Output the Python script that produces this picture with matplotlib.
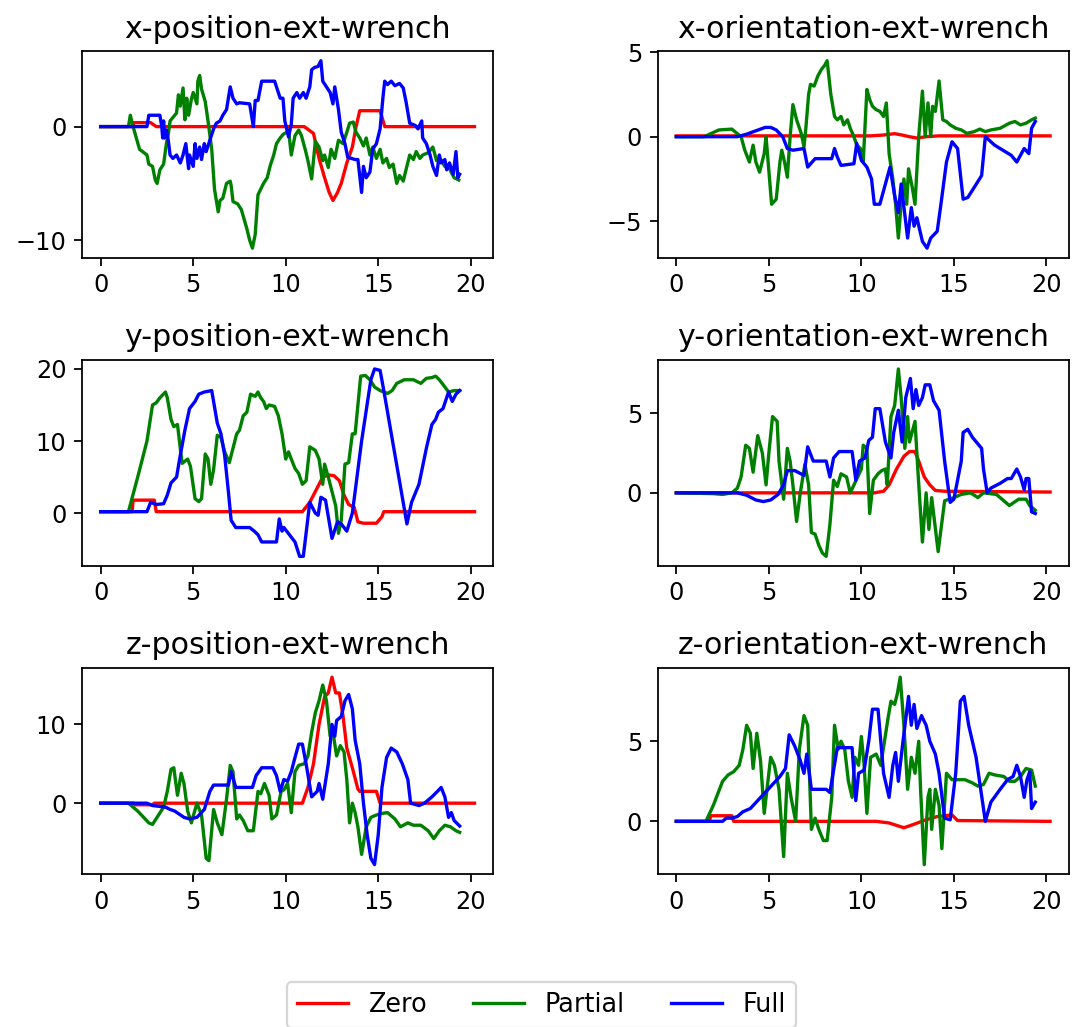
import numpy as np
import matplotlib.pyplot as plt

# (time, value) samples, one list per panel and mode
xpos_zero = [(0, 0), (1.7, 0), (1.8, 0.35), (2.7, 0.35), (3.0, 0), (11.0, 0), (11.5, -0.6), (11.8, -2.8),
             (12.1, -4.5), (12.35, -5.8), (12.55, -6.5), (12.8, -5.8), (13.0, -5.0), (13.3, -3.2), (13.6, -1.8),
             (13.8, 0), (14.0, 1.4), (15.1, 1.4), (15.35, 0), (20.2, 0)]
xpos_partial = [(0, 0), (1.5, 0), (1.6, 1.0), (1.75, 0), (2.1, -2.0), (2.5, -2.5), (2.6, -3.3), (2.8, -3.5),
                (2.95, -4.7), (3.05, -5.0), (3.2, -3.8), (3.4, -3.3), (3.55, -1.5), (3.65, -0.7), (3.75, 0.5),
                (3.9, 0.8), (4.1, 1.2), (4.2, 2.8), (4.3, 1.8), (4.45, 3.4), (4.55, 0.6), (4.65, 2.5), (4.75, 1.0),
                (4.9, 2.4), (5.0, 3.0), (5.2, 2.0), (5.25, 4.0), (5.35, 4.5), (5.45, 3.3), (5.65, 2.2), (5.8, 0.5),
                (6.0, -2.0), (6.15, -5.5), (6.35, -7.5), (6.45, -6.5), (6.6, -6.3), (6.8, -5.0), (7.0, -4.8),
                (7.05, -5.2), (7.15, -6.6), (7.4, -6.8), (7.6, -7.3), (7.9, -9.0), (8.05, -10.0), (8.2, -10.7),
                (8.35, -9.5), (8.5, -6.0), (8.8, -5.0), (9.0, -4.5), (9.15, -3.5), (9.35, -2.5), (9.5, -1.5),
                (9.7, -1.0), (9.85, -0.7), (10.05, -0.5), (10.15, -0.3), (10.3, -2.5), (10.5, -0.8), (10.7, -0.3),
                (10.85, -0.8), (11.05, -2.0), (11.2, -3.0), (11.4, -4.6), (11.6, -1.3), (11.8, -1.8), (12.0, -3.0),
                (12.1, -2.5), (12.3, -3.6), (12.45, -2.0), (12.65, -2.8), (12.85, -1.2), (13.1, -1.5), (13.3, -0.5),
                (13.45, 0.3), (13.65, 0.4), (13.8, -0.5), (14.0, -1.0), (14.2, -1.7), (14.35, -1.0), (14.55, -2.5),
                (14.7, -1.8), (14.9, -2.8), (15.1, -2.0), (15.25, -3.2), (15.45, -2.8), (15.6, -3.6), (15.8, -3.3),
                (16.0, -5.0), (16.15, -4.3), (16.35, -4.8), (16.5, -3.8), (16.7, -2.5), (16.9, -2.9), (17.05, -2.2),
                (17.25, -2.8), (17.4, -2.5), (17.7, -2.3), (17.95, -1.8), (18.15, -3.0), (18.3, -2.7), (18.6, -3.5),
                (18.85, -3.7), (19.1, -4.5), (19.35, -4.7)]
xpos_full = [(0, 0), (2.5, 0), (2.6, 1.0), (3.2, 1.0), (3.3, 0), (3.35, -1.0), (3.4, 0.5), (3.45, -1.0),
             (3.55, -0.3), (3.65, -1.2), (3.75, -2.5), (3.9, -2.8), (4.1, -2.5), (4.3, -3.2), (4.45, -2.5),
             (4.6, -1.5), (4.75, -3.7), (4.8, -2.5), (5.0, -3.5), (5.1, -1.5), (5.2, -2.8), (5.35, -1.8),
             (5.45, -2.9), (5.6, -1.5), (5.7, -2.2), (5.9, -1.2), (6.1, -0.2), (6.25, 0.3), (6.45, 0.5), (6.6, 1.0),
             (6.8, 1.5), (7.0, 3.5), (7.15, 2.5), (7.35, 2.0), (7.5, 2.1), (8.05, 2.0), (8.25, 0), (8.35, 2.3),
             (8.5, 2.3), (8.7, 4.0), (9.4, 4.0), (9.7, 2.5), (9.85, 2.5), (9.95, 0.5), (10.15, -0.9), (10.3, 0.2),
             (10.4, 2.5), (10.6, 3.0), (10.75, 2.5), (10.95, 3.0), (11.1, 2.5), (11.3, 3.5), (11.4, 5.0),
             (11.55, 5.2), (11.75, 5.3), (11.9, 5.8), (12.0, 4.0), (12.2, 3.5), (12.4, 3.0), (12.55, 2.0),
             (12.65, 3.5), (12.85, 1.5), (13.0, -0.5), (13.2, -1.5), (13.35, -2.7), (13.75, -2.9), (13.9, -2.9),
             (14.1, -5.8), (14.2, -3.5), (14.35, -4.5), (14.55, -4.0), (14.7, -2.0), (14.9, -1.5), (15.1, -0.2),
             (15.25, 2.5), (15.35, 4.0), (15.5, 3.7), (15.7, 4.0), (15.9, 3.6), (16.15, 3.8), (16.35, 3.4),
             (16.5, 2.2), (16.7, 0.3), (17.0, 0.1), (17.15, -0.2), (17.35, 0.5), (17.4, -1.0), (17.6, -1.5),
             (17.8, -2.5), (17.95, -3.5), (18.15, -4.3), (18.3, -2.5), (18.4, -3.2), (18.6, -2.9), (18.7, -3.8),
             (18.85, -3.2), (19.05, -4.2), (19.2, -2.2), (19.3, -4.5), (19.4, -4.2)]

xori_zero = [(0, 0.05), (10.5, 0.05), (11.2, 0.1), (11.8, 0.18), (12.2, 0.1), (12.6, 0.0), (13.0, -0.08),
             (13.5, 0.0), (14.2, 0.05), (20.2, 0.05)]
xori_partial = [(0, 0), (1.5, 0), (2.3, 0.4), (3.0, 0.45), (3.5, 0.0), (3.7, -0.8), (3.95, -1.5), (4.15, -0.5),
                (4.3, -1.5), (4.5, -2.1), (4.75, -1.0), (4.85, 0.0), (5.0, -2.0), (5.15, -4.0), (5.4, -3.7),
                (5.6, -1.5), (5.7, -0.8), (5.85, -1.5), (6.0, -2.4), (6.15, 0.0), (6.3, 1.9), (6.5, 1.0),
                (6.75, 0.2), (6.9, -0.6), (7.0, 0.5), (7.15, 2.5), (7.25, 3.1), (7.45, 3.0), (7.65, 3.6),
                (7.85, 4.0), (8.0, 4.2), (8.15, 4.5), (8.35, 2.5), (8.55, 1.2), (8.7, 1.0), (8.9, 1.2), (9.05, 0.7),
                (9.25, 1.0), (9.4, 0.5), (9.6, 0.0), (9.75, -0.5), (9.95, -0.7), (10.1, -1.5), (10.3, 2.8),
                (10.45, 2.2), (10.6, 1.8), (10.8, 1.6), (11.0, 1.5), (11.2, 1.2), (11.35, 2.0), (11.5, -1.0),
                (11.7, -2.5), (11.85, -4.0), (12.0, -6.0), (12.15, -4.0), (12.3, -2.5), (12.45, -4.0),
                (12.55, -1.9), (12.75, -3.0), (12.9, -4.0), (13.1, 0.0), (13.3, 2.7), (13.45, 0.0), (13.6, 2.0),
                (13.75, 0.0), (13.85, 1.8), (14.0, 1.5), (14.2, 3.3), (14.4, 1.0), (14.6, 0.9), (14.8, 0.7),
                (15.1, 0.5), (15.4, 0.4), (15.7, 0.2), (16.1, 0.3), (16.4, 0.45), (16.7, 0.3), (17.0, 0.4),
                (17.5, 0.5), (18.0, 0.8), (18.3, 0.9), (18.6, 0.7), (18.9, 0.8), (19.2, 1.0), (19.4, 1.1)]
xori_full = [(0, 0), (3.3, 0), (3.8, 0.15), (4.3, 0.35), (4.8, 0.55), (5.1, 0.55), (5.4, 0.4), (5.75, 0.0),
             (6.0, -0.7), (6.3, -0.8), (6.9, -0.7), (7.1, -1.8), (7.5, -1.3), (8.4, -1.3), (8.55, -0.7),
             (8.7, -1.2), (8.9, -1.7), (9.6, -1.6), (9.75, -0.4), (10.0, -1.4), (10.3, -1.8), (10.55, -2.5),
             (10.7, -4.0), (11.0, -4.0), (11.3, -2.8), (11.55, -1.8), (11.8, -3.5), (12.0, -4.5), (12.15, -2.8),
             (12.5, -6.0), (12.7, -4.2), (12.85, -5.3), (13.0, -4.8), (13.3, -6.2), (13.55, -6.6), (13.75, -6.0),
             (14.1, -5.6), (14.3, -4.0), (14.6, -1.5), (14.9, -0.3), (15.2, -0.7), (15.5, -3.7), (15.75, -3.6),
             (16.1, -3.0), (16.5, -2.3), (16.7, 0.0), (17.2, -0.5), (17.8, -0.9), (18.1, -1.1), (18.4, -1.5),
             (18.8, -0.7), (19.05, -1.0), (19.2, 0.5), (19.4, 0.9)]

ypos_zero = [(0, 0.2), (1.7, 0.2), (1.75, 1.8), (2.9, 1.8), (3.0, 0.2), (10.9, 0.2), (11.3, 1.5), (11.7, 3.5),
             (12.0, 5.0), (12.3, 5.3), (12.6, 5.2), (12.9, 4.5), (13.15, 2.5), (13.4, 1.2), (13.7, 0.8),
             (13.9, -1.2), (14.2, -1.4), (14.9, -1.4), (15.2, -0.5), (15.3, 0.2), (20.2, 0.2)]
ypos_partial = [(0, 0.2), (1.5, 0.2), (2.0, 5.0), (2.5, 10.0), (2.8, 15.0), (3.0, 15.3), (3.2, 16.0), (3.5, 16.8),
                (3.6, 16.0), (3.8, 13.0), (3.95, 12.0), (4.15, 12.3), (4.3, 9.0), (4.4, 6.9), (4.7, 7.5),
                (4.85, 6.5), (5.1, 2.0), (5.3, 1.6), (5.45, 2.0), (5.65, 8.2), (5.8, 7.5), (5.95, 4.0), (6.1, 6.0),
                (6.3, 10.8), (6.5, 10.5), (6.7, 8.5), (6.95, 7.0), (7.2, 9.5), (7.35, 11.0), (7.5, 11.5),
                (7.7, 13.5), (7.9, 14.0), (8.1, 16.5), (8.35, 16.2), (8.5, 16.8), (8.65, 16.0), (8.8, 15.5),
                (8.95, 14.5), (9.1, 15.0), (9.4, 14.8), (9.6, 13.5), (9.8, 11.0), (10.0, 7.5), (10.15, 8.5),
                (10.3, 7.5), (10.5, 6.2), (10.7, 5.5), (10.9, 4.0), (11.1, 4.5), (11.3, 9.2), (11.6, 8.7),
                (11.8, 7.5), (12.0, 4.0), (12.1, 6.8), (12.3, 5.0), (12.5, 3.0), (12.7, 1.0), (12.85, -2.8),
                (13.0, -1.0), (13.2, 6.8), (13.4, 7.0), (13.6, 11.0), (13.75, 11.0), (13.9, 15.0), (14.05, 19.0),
                (14.3, 19.1), (14.55, 18.5), (14.8, 17.5), (15.1, 17.0), (15.5, 16.6), (15.75, 17.0), (16.0, 18.0),
                (16.4, 18.5), (16.9, 18.5), (17.3, 18.0), (17.6, 18.7), (17.9, 18.8), (18.1, 19.0), (18.3, 18.5),
                (18.6, 17.5), (18.8, 16.8), (19.1, 17.0), (19.4, 17.0)]
ypos_full = [(0, 0.2), (2.5, 0.2), (2.7, 1.5), (3.0, 1.2), (3.4, 1.3), (3.6, 2.5), (3.8, 4.2), (4.1, 5.0),
             (4.3, 8.0), (4.55, 11.5), (4.8, 14.5), (5.1, 15.5), (5.3, 16.5), (5.6, 16.8), (6.0, 17.0),
             (6.3, 12.5), (6.5, 11.0), (6.7, 8.0), (6.9, 3.0), (7.05, -1.0), (7.3, -2.0), (8.05, -2.0),
             (8.3, -2.5), (8.5, -3.0), (8.7, -4.0), (9.5, -4.0), (9.65, -0.8), (9.8, -2.5), (9.9, -2.0),
             (10.2, -3.0), (10.5, -4.0), (10.75, -6.0), (10.95, -6.0), (11.3, 1.5), (11.6, 0.0), (11.75, -0.3),
             (11.9, 2.2), (12.15, 1.8), (12.5, -3.5), (12.8, -1.2), (13.0, -1.5), (13.3, -2.5), (13.6, 0.0),
             (14.1, 10.0), (14.6, 18.5), (14.8, 20.0), (15.1, 19.8), (15.3, 17.0), (16.55, -1.5), (16.8, 1.5),
             (17.2, 4.0), (17.6, 9.0), (17.9, 12.3), (18.1, 13.0), (18.25, 14.0), (18.5, 14.5), (18.8, 16.8),
             (19.0, 15.5), (19.2, 16.5), (19.4, 17.0)]

yori_zero = [(0, 0), (10.7, 0), (11.2, 0.1), (11.5, 0.5), (11.9, 1.5), (12.3, 2.3), (12.6, 2.6), (12.9, 2.6),
             (13.1, 2.0), (13.4, 1.0), (13.7, 0.5), (14.0, 0.15), (14.5, 0.1), (20.2, 0.05)]
yori_partial = [(0, 0), (2.0, -0.05), (2.5, -0.1), (3.0, 0.0), (3.3, 0.3), (3.5, 1.0), (3.75, 3.0), (3.95, 2.8),
                (4.15, 1.3), (4.4, 3.6), (4.65, 2.5), (4.85, 0.5), (5.0, 2.5), (5.2, 4.8), (5.45, 4.5), (5.55, 2.0),
                (5.8, -0.4), (6.0, 2.8), (6.15, 2.0), (6.3, 0.5), (6.5, -1.8), (6.7, 0.0), (6.95, 1.8),
                (7.15, 0.5), (7.3, -2.5), (7.5, -2.6), (7.7, -3.3), (7.9, -3.8), (8.1, -4.0), (8.3, -2.0),
                (8.5, 0.8), (8.7, 0.4), (8.9, 1.2), (9.2, 1.0), (9.4, 0.0), (9.6, 0.5), (9.8, 1.0), (10.0, 1.5),
                (10.1, 3.0), (10.3, 2.8), (10.45, -1.3), (10.65, 0.8), (10.9, 1.2), (11.1, 1.4), (11.3, 1.5),
                (11.4, 0.5), (11.6, 4.8), (11.8, 5.5), (12.0, 7.8), (12.15, 6.0), (12.35, 2.8), (12.5, 4.8),
                (12.6, 3.2), (12.9, 4.5), (13.05, 1.5), (13.3, -3.1), (13.5, 0.0), (13.65, -2.3), (13.8, -0.3),
                (14.15, -3.7), (14.5, -0.5), (15.0, -0.3), (15.4, -0.1), (15.9, 0.0), (16.3, -0.3), (16.6, 0.0),
                (17.3, -0.1), (17.7, -0.5), (18.0, -0.8), (18.5, -0.4), (18.9, -0.4), (19.1, -0.8), (19.4, -1.1)]
yori_full = [(0, 0), (3.3, 0), (3.8, -0.15), (4.3, -0.45), (4.7, -0.55), (5.1, -0.45), (5.5, -0.1), (5.8, 0.5),
             (6.0, 1.4), (6.4, 1.4), (6.9, 1.1), (7.1, 2.9), (7.4, 2.0), (8.1, 2.0), (8.3, 1.0), (8.5, 2.2),
             (8.8, 2.6), (9.5, 2.6), (9.7, 0.8), (9.9, 2.0), (10.2, 2.2), (10.4, 3.3), (10.6, 3.5), (10.75, 5.3),
             (11.0, 5.3), (11.3, 3.2), (11.6, 2.2), (11.75, 3.8), (12.0, 5.2), (12.2, 3.2), (12.4, 6.0),
             (12.65, 7.2), (12.8, 5.3), (12.95, 6.5), (13.1, 5.5), (13.3, 6.0), (13.45, 6.8), (13.7, 6.8),
             (13.9, 5.8), (14.2, 5.2), (14.5, 2.0), (14.8, -0.6), (15.0, -0.4), (15.4, 2.0), (15.5, 3.8),
             (15.75, 4.0), (16.0, 3.5), (16.5, 2.8), (16.6, 1.5), (16.8, 0.0), (17.0, 0.3), (17.5, 0.6),
             (17.9, 0.9), (18.1, 0.9), (18.4, 1.5), (18.6, 1.0), (18.8, 0.2), (18.9, 0.9), (19.05, 0.9),
             (19.2, -1.2), (19.4, -1.3)]

zpos_zero = [(0, 0), (1.8, 0), (1.85, -0.2), (2.8, -0.2), (2.9, 0), (10.9, 0), (11.2, 2.0), (11.5, 5.0),
             (11.8, 10.0), (12.1, 13.5), (12.3, 14.0), (12.5, 16.0), (12.7, 14.0), (12.9, 14.0), (13.1, 11.0),
             (13.3, 7.0), (13.6, 4.5), (13.9, 1.8), (14.0, 1.5), (14.9, 1.5), (15.1, 0.0), (20.2, 0.0)]
zpos_partial = [(0, 0), (1.5, 0), (2.0, -1.0), (2.6, -2.5), (2.8, -2.7), (3.4, -0.5), (3.6, 1.5), (3.8, 4.3),
                (3.95, 4.5), (4.15, 1.0), (4.35, 3.8), (4.5, 2.5), (4.7, -1.0), (4.9, -2.5), (5.2, 0.0),
                (5.45, -1.5), (5.7, -7.0), (5.85, -7.3), (6.1, -0.8), (6.3, -2.5), (6.55, -4.0), (6.8, 0.5),
                (7.0, 4.8), (7.15, 4.0), (7.35, -2.0), (7.5, -1.5), (7.7, -2.2), (7.95, -3.5), (8.25, -3.5),
                (8.5, 1.5), (8.65, 1.2), (8.85, 2.5), (9.1, 1.0), (9.25, -2.0), (9.5, -1.5), (9.75, 1.5),
                (9.9, 1.7), (10.1, 2.5), (10.3, -1.2), (10.5, 4.0), (10.7, 4.8), (11.0, 5.0), (11.2, 6.0),
                (11.4, 9.0), (11.6, 11.5), (11.8, 13.0), (12.0, 15.0), (12.2, 13.0), (12.4, 8.5), (12.55, 9.0),
                (12.75, 6.0), (12.95, 7.3), (13.15, 6.5), (13.3, 3.0), (13.45, -2.5), (13.6, 0.0), (13.75, -1.2),
                (13.9, -3.0), (14.1, -6.5), (14.35, -3.0), (14.6, -1.8), (14.9, -1.5), (15.2, -1.3), (15.5, -1.2),
                (15.9, -2.0), (16.2, -3.0), (16.6, -2.5), (16.9, -2.8), (17.3, -2.8), (17.7, -3.5), (18.0, -4.5),
                (18.3, -3.5), (18.6, -2.8), (18.9, -3.0), (19.2, -3.5), (19.4, -3.7)]
zpos_full = [(0, 0), (2.5, 0), (2.8, -0.3), (3.5, -0.5), (3.75, -0.8), (4.0, -1.0), (4.5, -1.8), (4.8, -2.0),
             (5.2, -1.8), (5.6, -0.8), (5.9, 1.5), (6.1, 2.3), (6.9, 2.3), (7.05, 4.0), (7.3, 2.0), (8.2, 2.0),
             (8.4, 3.5), (8.7, 4.5), (9.3, 4.5), (9.5, 3.5), (9.7, 1.5), (9.9, 3.0), (10.1, 2.8), (10.3, 4.0),
             (10.5, 5.8), (10.7, 7.5), (10.9, 7.5), (11.1, 5.0), (11.4, 0.8), (11.7, 1.5), (11.8, 2.5),
             (12.0, 0.5), (12.3, 5.0), (12.5, 10.0), (12.65, 8.5), (12.75, 10.5), (13.0, 11.0), (13.2, 13.0),
             (13.4, 13.8), (13.6, 12.0), (13.75, 8.0), (14.0, 5.0), (14.2, 0.0), (14.4, -4.0), (14.6, -7.0),
             (14.8, -7.8), (15.0, -4.0), (15.2, 2.0), (15.45, 5.8), (15.7, 7.0), (16.0, 6.5), (16.3, 5.0),
             (16.6, 3.0), (16.75, 0.0), (17.2, -0.3), (17.5, 0.0), (17.9, 0.8), (18.2, 1.5), (18.4, 2.0),
             (18.6, 0.8), (18.8, -1.8), (18.95, -1.2), (19.1, -2.2), (19.4, -2.9)]

zori_zero = [(0, 0), (1.8, 0), (1.85, 0.35), (3.0, 0.35), (3.1, 0), (10.8, 0), (11.5, -0.1), (12.3, -0.4),
             (12.8, -0.2), (13.5, 0.1), (14.1, 0.3), (14.9, 0.4), (15.2, 0.05), (20.2, 0.0)]
zori_partial = [(0, 0), (1.6, 0), (2.0, 1.0), (2.5, 2.5), (2.8, 2.9), (3.1, 3.1), (3.4, 3.5), (3.6, 4.5),
                (3.8, 6.0), (4.0, 5.5), (4.15, 3.3), (4.35, 5.5), (4.55, 3.8), (4.75, 0.5), (5.1, 4.0), (5.3, 3.5),
                (5.55, 2.0), (5.8, -2.2), (6.0, 3.0), (6.2, 1.5), (6.45, 0.0), (6.65, 4.5), (6.9, 6.6), (7.1, 6.0),
                (7.3, -0.5), (7.5, 0.2), (7.7, -0.5), (7.95, -1.2), (8.15, -1.2), (8.4, 1.5), (8.55, 6.0),
                (8.75, 4.5), (8.9, 5.0), (9.1, 4.5), (9.3, 2.5), (9.5, 1.5), (9.65, 4.0), (9.85, 3.5), (10.0, 5.3),
                (10.15, 3.5), (10.3, 0.5), (10.5, 4.0), (10.8, 4.2), (11.05, 3.5), (11.25, 5.0), (11.45, 6.5),
                (11.6, 7.5), (11.8, 7.3), (11.95, 8.0), (12.1, 9.0), (12.3, 6.0), (12.5, 2.0), (12.7, 4.0),
                (12.9, 3.0), (13.1, 5.0), (13.2, 2.0), (13.4, -2.7), (13.6, 1.5), (13.7, 2.0), (13.8, -0.5),
                (14.0, 2.0), (14.2, 1.0), (14.35, -1.7), (14.6, 3.0), (14.9, 2.6), (15.2, 2.6), (15.6, 2.6),
                (16.0, 2.4), (16.3, 2.2), (16.6, 2.3), (16.9, 3.0), (17.2, 2.9), (17.7, 2.8), (18.0, 2.5),
                (18.3, 2.5), (18.6, 2.8), (18.9, 3.3), (19.2, 3.2), (19.4, 2.2)]
zori_full = [(0, 0), (2.5, 0), (2.7, 0.2), (3.0, 0.2), (3.3, 0.3), (3.6, 0.6), (4.0, 0.8), (4.4, 1.3), (4.8, 1.8),
             (5.2, 2.3), (5.6, 2.8), (5.9, 3.3), (6.1, 5.4), (6.4, 4.7), (6.7, 3.8), (6.9, 3.0), (7.05, 4.2),
             (7.3, 2.0), (8.1, 2.0), (8.3, 1.8), (8.5, 3.2), (8.7, 4.6), (9.5, 4.6), (9.7, 1.3), (9.85, 3.0),
             (10.15, 3.2), (10.4, 5.0), (10.6, 7.0), (10.9, 7.0), (11.2, 3.0), (11.5, 1.5), (11.7, 3.5),
             (11.85, 4.3), (12.0, 2.5), (12.25, 5.0), (12.55, 7.8), (12.7, 6.0), (12.85, 7.3), (13.0, 5.8),
             (13.25, 6.6), (13.5, 6.0), (13.7, 5.0), (14.0, 4.2), (14.2, 3.0), (14.5, 0.2), (14.8, 0.1),
             (15.1, 3.0), (15.35, 7.5), (15.55, 7.8), (15.8, 6.0), (16.2, 4.0), (16.45, 2.0), (16.7, 0.0),
             (17.0, 1.2), (17.5, 2.0), (17.9, 2.6), (18.2, 2.8), (18.4, 3.5), (18.6, 2.8), (18.8, 1.5),
             (18.95, 2.6), (19.1, 3.1), (19.2, 0.8), (19.4, 1.2)]

titles = ['x-position-ext-wrench', 'x-orientation-ext-wrench',
          'y-position-ext-wrench', 'y-orientation-ext-wrench',
          'z-position-ext-wrench', 'z-orientation-ext-wrench']
panels = [(xpos_zero, xpos_partial, xpos_full), (xori_zero, xori_partial, xori_full),
          (ypos_zero, ypos_partial, ypos_full), (yori_zero, yori_partial, yori_full),
          (zpos_zero, zpos_partial, zpos_full), (zori_zero, zori_partial, zori_full)]
yticks = [[-10, 0], [-5, 0, 5], [0, 10, 20], [0, 5], [0, 10], [0, 5]]
xticks = [0, 5, 10, 15, 20]
labels = ['Zero', 'Partial', 'Full']
colors = ['red', 'green', 'blue']

plt.rcParams['font.size'] = 10.8

fig, axes = plt.subplots(3, 2, figsize=(1072 / 160, 1027 / 160), dpi=160)
fig.subplots_adjust(left=0.0765, right=0.997, top=0.950, bottom=0.149, wspace=0.40, hspace=0.495)

for ax, title, series, yt in zip(axes.flat, titles, panels, yticks):
    for pts, lab, col in zip(series, labels, colors):
        t, v = np.array(pts).T
        ax.plot(t, v, color=col, label=lab)
    ax.set_title(title, fontsize=13.5)
    ax.set_xticks(xticks)
    ax.set_yticks(yt)

handles, labs = axes[0, 0].get_legend_handles_labels()
fig.legend(handles, labs, loc='upper center', bbox_to_anchor=(0.505, 1 - 982 / 1027),
           ncol=3, borderaxespad=0, columnspacing=1.8, fontsize=11.5)

fig.savefig('out.png', dpi=160)
